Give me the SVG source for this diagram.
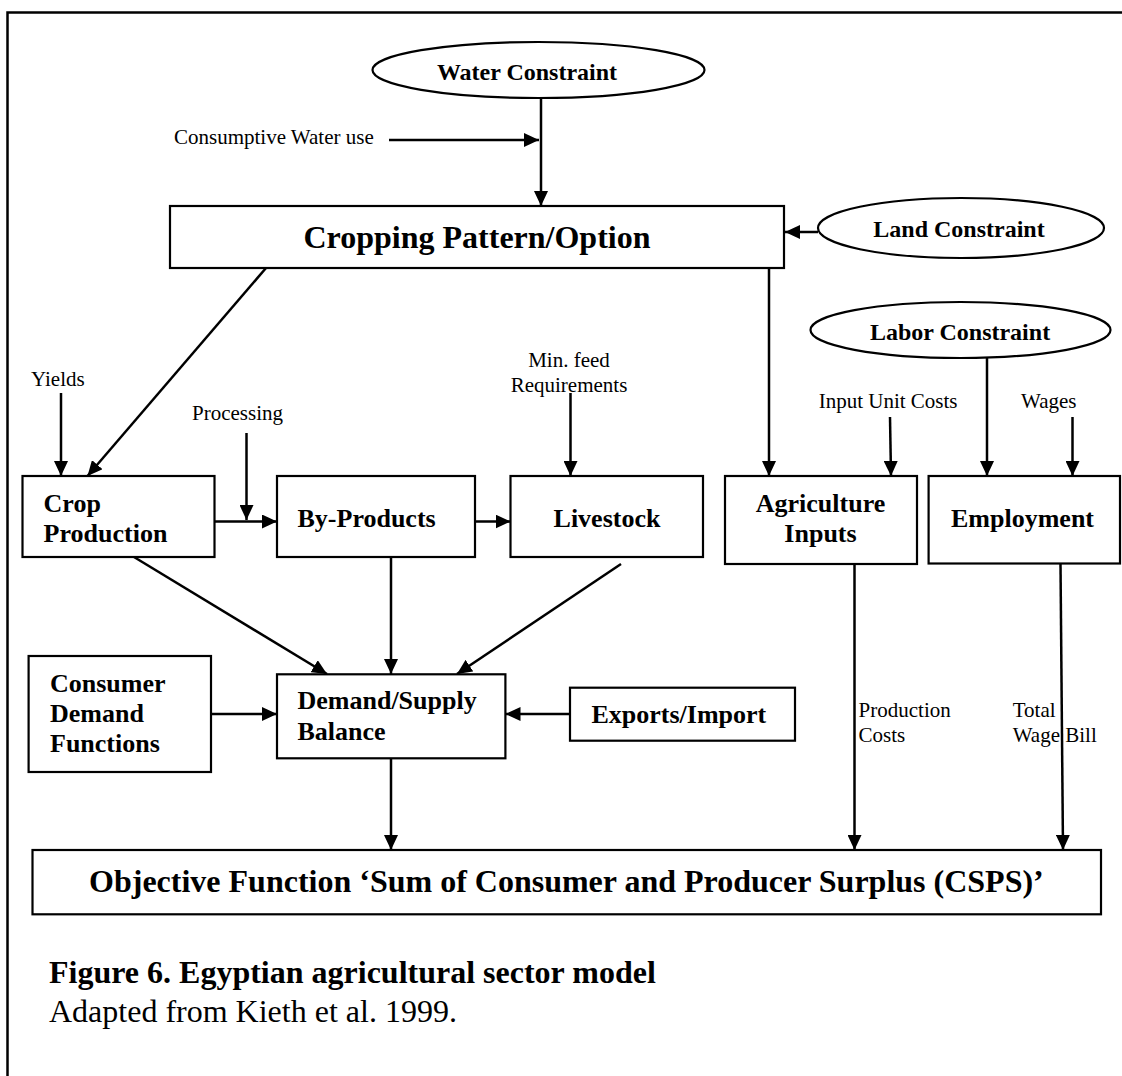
<svg xmlns="http://www.w3.org/2000/svg" width="1122" height="1076" viewBox="0 0 1122 1076">
<defs>
<marker id="ah" markerUnits="userSpaceOnUse" markerWidth="15" markerHeight="14" refX="15" refY="7" orient="auto">
<path d="M0,0 L15,7 L0,14 z" fill="#000"/>
</marker>
<style>
.box{fill:#fff;stroke:#000;stroke-width:2.2}
.ell{fill:#fff;stroke:#000;stroke-width:2.2}
.ln{stroke:#000;stroke-width:2.5;fill:none}
.ar{stroke:#000;stroke-width:2.5;fill:none;marker-end:url(#ah)}
.b{font-family:"Liberation Serif","Times New Roman",serif;font-weight:bold;fill:#000}
.r{font-family:"Liberation Serif","Times New Roman",serif;font-weight:normal;fill:#000}
.s24{font-size:24px}.s26{font-size:26px}.s32{font-size:32px}.s21{font-size:21px}
.m{text-anchor:middle}
</style>
</defs>
<rect width="1122" height="1076" fill="#fff"/>
<path d="M7.5,1076 V12.5 H1122" class="ln" stroke-width="2"/>

<g id="connectors">
<line class="ar" x1="389" y1="140" x2="539" y2="140"/>
<line class="ar" x1="541" y1="98" x2="541" y2="206"/>
<line class="ar" x1="818" y1="232" x2="785" y2="232"/>
<line class="ar" x1="266" y1="268" x2="87.5" y2="476"/>
<line class="ar" x1="769" y1="268" x2="769" y2="476"/>
<line class="ar" x1="61" y1="393" x2="61" y2="476"/>
<line class="ar" x1="246.5" y1="433" x2="246.5" y2="520"/>
<line class="ar" x1="215" y1="521.5" x2="277" y2="521.5"/>
<line class="ar" x1="475" y1="521.5" x2="510.5" y2="521.5"/>
<line class="ar" x1="570.5" y1="393" x2="570.5" y2="476"/>
<line class="ar" x1="890" y1="417" x2="891" y2="476"/>
<line class="ar" x1="987" y1="358" x2="987" y2="476"/>
<line class="ar" x1="1072.5" y1="417" x2="1072.5" y2="476"/>
<line class="ar" x1="134" y1="557" x2="327" y2="674"/>
<line class="ar" x1="391" y1="557" x2="391" y2="674"/>
<line class="ar" x1="621" y1="564" x2="457" y2="674"/>
<line class="ar" x1="211" y1="714" x2="277" y2="714"/>
<line class="ar" x1="570" y1="714" x2="505.5" y2="714"/>
<line class="ar" x1="391" y1="758" x2="391" y2="850"/>
<line class="ar" x1="854.5" y1="564" x2="854.5" y2="850"/>
<line class="ar" x1="1060.5" y1="564" x2="1063" y2="850"/>
</g>

<g id="labels">
<text class="r s21" x="174" y="144">Consumptive Water use</text>
<text class="r s21" x="31" y="386">Yields</text>
<text class="r s21" x="192" y="420">Processing</text>
<text class="r s21 m" x="569" y="366.7">Min. feed</text>
<text class="r s21 m" x="569" y="391.7">Requirements</text>
<text class="r s21" x="818.7" y="407.7">Input Unit Costs</text>
<text class="r s21" x="1021" y="407.7">Wages</text>
<text class="r s21" x="858.6" y="716.7">Production</text>
<text class="r s21" x="858.6" y="741.7">Costs</text>
<text class="r s21" x="1012.7" y="716.7">Total</text>
<text class="r s21" x="1012.7" y="741.7">Wage Bill</text>
</g>

<g id="water">
<ellipse class="ell" cx="538.5" cy="70" rx="166" ry="28"/>
<text class="b s24 m" x="527" y="80">Water Constraint</text>
</g>
<g id="cropping">
<rect class="box" x="170" y="206" width="614" height="62"/>
<text class="b s32 m" x="477" y="248">Cropping Pattern/Option</text>
</g>
<g id="land">
<ellipse class="ell" cx="961" cy="228" rx="143" ry="30"/>
<text class="b s24 m" x="959" y="237">Land Constraint</text>
</g>
<g id="labor">
<ellipse class="ell" cx="960.5" cy="330" rx="150" ry="28"/>
<text class="b s24 m" x="960" y="340">Labor Constraint</text>
</g>
<g id="crop">
<rect class="box" x="22.5" y="476" width="192" height="81"/>
<text class="b s26" x="43.6" y="511.7">Crop</text>
<text class="b s26" x="43.6" y="541.7">Production</text>
</g>
<g id="byproducts">
<rect class="box" x="277" y="476" width="198" height="81"/>
<text class="b s26" x="297.5" y="527">By-Products</text>
</g>
<g id="livestock">
<rect class="box" x="510.5" y="476" width="192.5" height="81"/>
<text class="b s26 m" x="607" y="527">Livestock</text>
</g>
<g id="aginputs">
<rect class="box" x="725" y="476" width="192" height="88"/>
<text class="b s26 m" x="820.5" y="511.7">Agriculture</text>
<text class="b s26 m" x="820.5" y="541.7">Inputs</text>
</g>
<g id="employment">
<rect class="box" x="928.6" y="476" width="191.4" height="87.5"/>
<text class="b s26 m" x="1022.5" y="527">Employment</text>
</g>
<g id="consumer">
<rect class="box" x="28.6" y="656" width="182.4" height="116"/>
<text class="b s26" x="50" y="691.7">Consumer</text>
<text class="b s26" x="50" y="721.7">Demand</text>
<text class="b s26" x="50" y="751.7">Functions</text>
</g>
<g id="demandsupply">
<rect class="box" x="277" y="674.3" width="228.4" height="84"/>
<text class="b s26" x="297.5" y="709.3">Demand/Supply</text>
<text class="b s26" x="297.5" y="740">Balance</text>
</g>
<g id="exports">
<rect class="box" x="570" y="687.7" width="225" height="53"/>
<text class="b s26" x="591.5" y="723">Exports/Import</text>
</g>
<g id="objective">
<rect class="box" x="32.5" y="850" width="1068.5" height="64.3"/>
<text class="b s32 m" x="566.4" y="891.7">Objective Function ‘Sum of Consumer and Producer Surplus (CSPS)’</text>
</g>
<g id="caption">
<text class="b s32" x="49" y="983.3">Figure 6. Egyptian agricultural sector model</text>
<text class="r s32" x="49" y="1021.7">Adapted from Kieth et al. 1999.</text>
</g>
</svg>
